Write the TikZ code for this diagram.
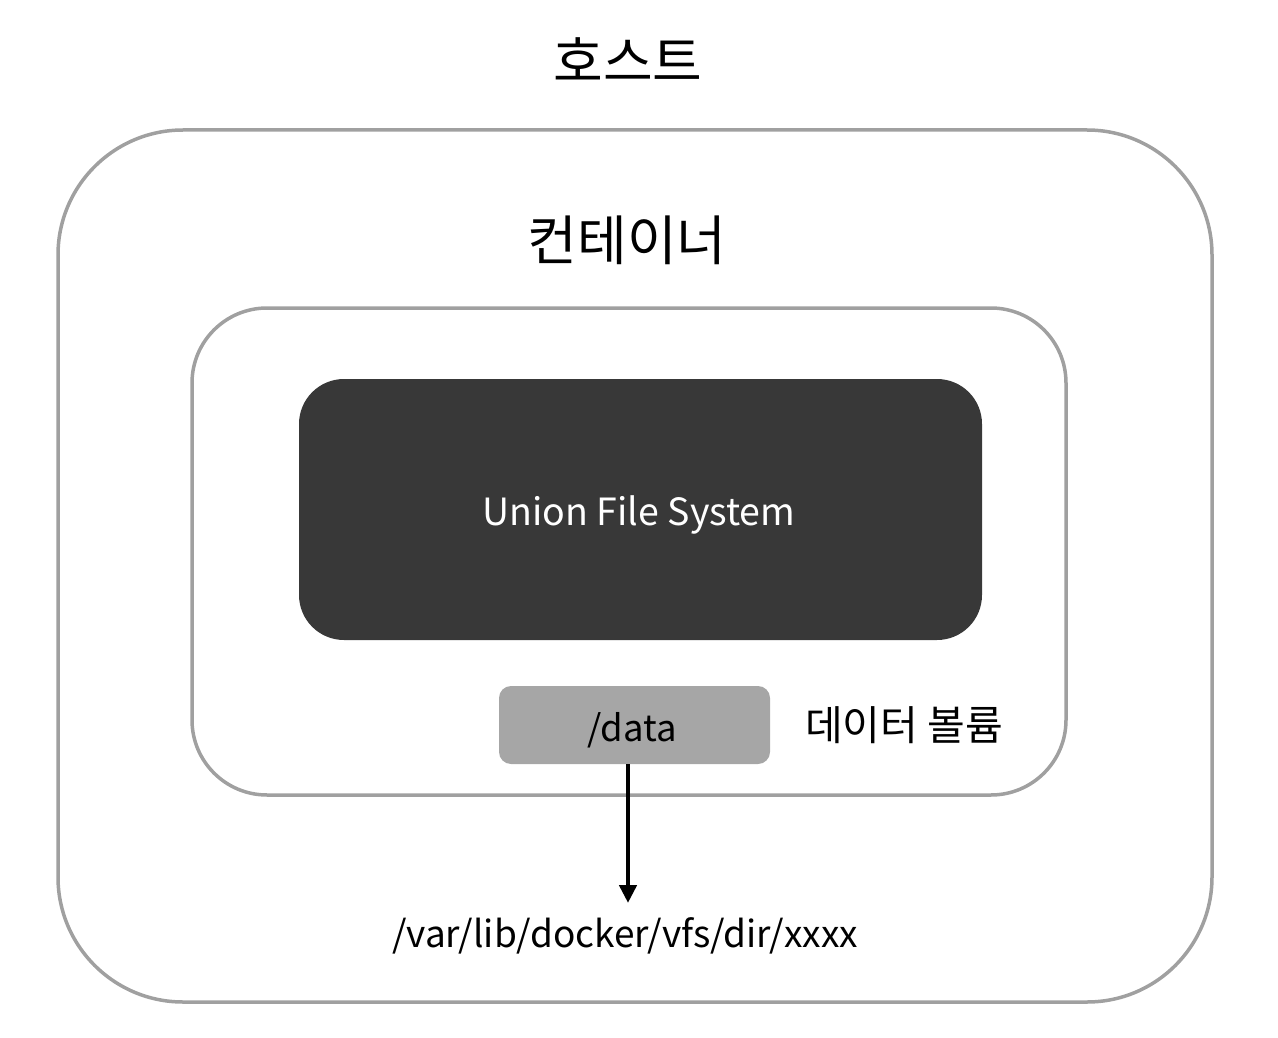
\documentclass[tikz,border=0pt]{standalone}
\usepackage{fontspec}
\setmainfont{Noto Sans CJK KR}
\usetikzlibrary{arrows.meta}
\definecolor{framegray}{HTML}{A0A0A0}
\definecolor{darkbox}{HTML}{383838}
\definecolor{databox}{HTML}{A6A6A6}
\begin{document}
\begin{tikzpicture}[x=1pt,y=-1pt,
  frame/.style={draw=framegray, line width=3.5pt, rounded corners=#1, inner sep=0pt},
  lbl/.style={inner sep=0pt, text=black}]
\useasboundingbox (0,0) rectangle (1278,1038);
\node[frame=125pt, minimum width=1154pt, minimum height=872pt] (host) at (635,566) {};
\node[frame=75pt, minimum width=874pt, minimum height=487pt] (cont) at (629,551.5) {};
\node[fill=darkbox, rounded corners=45pt, minimum width=683pt, minimum height=261pt, inner sep=0pt] (ufs) at (640.5,509.5) {};
\node[text=white, inner sep=0pt, font=\fontsize{37.5}{42}\selectfont] (ufslbl) at (639,515) {Union File System};
\node[fill=databox, rounded corners=12pt, minimum width=271pt, minimum height=78pt, inner sep=0pt] (data) at (634.5,725) {};
\node[lbl, font=\fontsize{36.5}{40}\selectfont] (datalbl) at (632,730) {/data};
\node[lbl, font=\fontsize{54}{60}\selectfont] (hostlbl) at (628,60) {호스트};
\node[lbl, font=\fontsize{54}{60}\selectfont] (contlbl) at (627,240) {컨테이너};
\node[lbl, font=\fontsize{41}{46}\selectfont] (vollbl) at (904,725) {데이터 볼륨};
\node[lbl, font=\fontsize{37}{42}\selectfont] (pathlbl) at (625,936) {/var/lib/docker/vfs/dir/xxxx};
\coordinate (arrend) at (628,903);
\draw[line width=4.5pt, -{Triangle[length=18pt,width=17pt]}] (data.south -| arrend) -- (arrend);
\end{tikzpicture}
\end{document}
